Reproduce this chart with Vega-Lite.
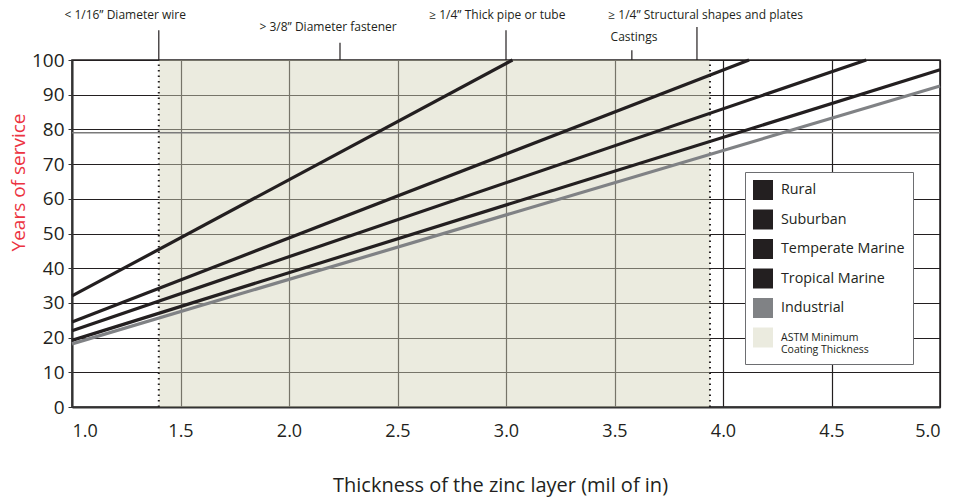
{
  "$schema": "https://vega.github.io/schema/vega-lite/v6.json",
  "width": 868,
  "height": 347,
  "autosize": "none",
  "padding": {"left": 72, "top": 60, "right": 15, "bottom": 93},
  "config": {
    "font": "Open Sans",
    "view": {"stroke": "#231f20", "strokeWidth": 1.5}
  },
  "datasets": {
    "lines": [
      {"series": "Rural", "x": 1.0, "y": 32},
      {"series": "Rural", "x": 3.03, "y": 100},
      {"series": "Suburban", "x": 1.0, "y": 24.5},
      {"series": "Suburban", "x": 4.12, "y": 100},
      {"series": "Temperate Marine", "x": 1.0, "y": 22},
      {"series": "Temperate Marine", "x": 4.66, "y": 100},
      {"series": "Tropical Marine", "x": 1.0, "y": 19.2},
      {"series": "Tropical Marine", "x": 5.0, "y": 97.2},
      {"series": "Industrial", "x": 1.0, "y": 18.2},
      {"series": "Industrial", "x": 5.0, "y": 92.5}
    ],
    "astm": [{"x": 1.4, "x2": 3.94, "y": 0, "y2": 100}],
    "edges": [
      {"x": 1.4, "y": 0, "y2": 100},
      {"x": 3.94, "y": 0, "y2": 100}
    ],
    "extra": [{"x": 1.0, "x2": 5.0, "y": 79}],
    "noteTicks": [
      {"x": 1.4, "y": 100, "y2": 108.6},
      {"x": 2.235, "y": 100, "y2": 105},
      {"x": 3.0, "y": 100, "y2": 108.6},
      {"x": 3.58, "y": 100, "y2": 102.8},
      {"x": 3.88, "y": 100, "y2": 109.5}
    ],
    "notes": [
      {"x": 1.245, "y": 113, "label": "<  1/16” Diameter wire"},
      {"x": 2.18, "y": 109.5, "label": ">  3/8” Diameter fastener"},
      {"x": 2.96, "y": 113, "label": "≥  1/4” Thick pipe or tube"},
      {"x": 3.92, "y": 113, "label": "≥  1/4” Structural shapes and plates"},
      {"x": 3.59, "y": 106.6, "label": "Castings"}
    ]
  },
  "encoding": {
    "x": {
      "field": "x",
      "type": "quantitative",
      "scale": {"domain": [1, 5], "nice": false, "zero": false},
      "axis": {
        "title": "Thickness of the zinc layer (mil of in)",
        "titleFontSize": 20,
        "titleFontWeight": "normal",
        "titleColor": "#231f20",
        "titlePadding": 35,
        "titleX": 428,
        "titleAnchor": null,
        "titleAlign": "center",
        "values": [1, 1.5, 2, 2.5, 3, 3.5, 4, 4.5, 5],
        "format": ".1f",
        "labelFontSize": 18,
        "labelColor": "#231f20",
        "labelPadding": 15,
        "ticks": false,
        "grid": true,
        "gridColor": "#231f20",
        "gridOpacity": 1,
        "gridWidth": 1.2,
        "domainColor": "#333333",
        "domainWidth": 2
      }
    },
    "y": {
      "field": "y",
      "type": "quantitative",
      "scale": {"domain": [0, 100], "nice": false},
      "axis": {
        "title": "Years of service",
        "titleFontSize": 19,
        "titleFontWeight": "normal",
        "titleColor": "#ec3341",
        "titlePadding": 3,
        "titleY": 122,
        "titleAlign": "center",
        "values": [0, 10, 20, 30, 40, 50, 60, 70, 80, 90, 100],
        "labelFontSize": 19,
        "labelColor": "#231f20",
        "labelPadding": 4,
        "tickSize": 4,
        "tickColor": "#333333",
        "grid": true,
        "gridColor": "#231f20",
        "gridOpacity": 1,
        "gridWidth": 1.2,
        "domainColor": "#333333",
        "domainWidth": 2
      }
    }
  },
  "layer": [
    {
      "data": {"name": "astm"},
      "mark": {"type": "rect", "fill": "#d5d5bb", "opacity": 0.47},
      "encoding": {"x2": {"field": "x2"}, "y2": {"field": "y2"}}
    },
    {
      "data": {"name": "edges"},
      "mark": {"type": "rule", "color": "#231f20", "strokeWidth": 2, "strokeDash": [1.5, 4]},
      "encoding": {"y2": {"field": "y2"}}
    },
    {
      "data": {"name": "extra"},
      "mark": {"type": "rule", "color": "#7a7a7a", "strokeWidth": 1.5},
      "encoding": {"x2": {"field": "x2"}}
    },
    {
      "data": {"name": "lines"},
      "mark": {"type": "line", "strokeWidth": 3.2},
      "encoding": {
        "color": {
          "field": "series",
          "type": "nominal",
          "scale": {
            "domain": ["Rural", "Suburban", "Temperate Marine", "Tropical Marine", "Industrial", "ASTM Minimum Coating Thickness"],
            "range": ["#231f20", "#231f20", "#231f20", "#231f20", "#808285", "#ebebdf"]
          },
          "legend": {
            "title": null,
            "orient": "none",
            "legendX": 673,
            "legendY": 112,
            "symbolType": "square",
            "symbolSize": 400,
            "symbolStrokeWidth": 0,
            "labelFontSize": 14.3,
            "labelColor": "#231f20",
            "labelOffset": 8,
            "labelLimit": 300,
            "rowPadding": 9.5,
            "padding": 8,
            "strokeColor": "#6d6e71",
            "fillColor": "white",
            "labelExpr": "datum.value == 'ASTM Minimum Coating Thickness' ? ['ASTM Minimum', 'Coating Thickness'] : datum.label",
            "encode": {
              "symbols": {
                "update": {
                  "fill": {"scale": "color", "field": "value"},
                  "stroke": {"value": "transparent"},
                  "opacity": {"value": 1}
                }
              },
              "labels": {
                "update": {
                  "fontSize": {"signal": "datum.value == 'ASTM Minimum Coating Thickness' ? 10.5 : 14.3"}
                }
              }
            }
          }
        }
      }
    },
    {
      "data": {"name": "noteTicks"},
      "mark": {"type": "rule", "color": "#231f20", "strokeWidth": 1.2},
      "encoding": {"y2": {"field": "y2"}}
    },
    {
      "data": {"name": "notes"},
      "mark": {"type": "text", "fontSize": 12, "color": "#231f20", "align": "center", "baseline": "middle"},
      "encoding": {"text": {"field": "label"}}
    }
  ]
}
